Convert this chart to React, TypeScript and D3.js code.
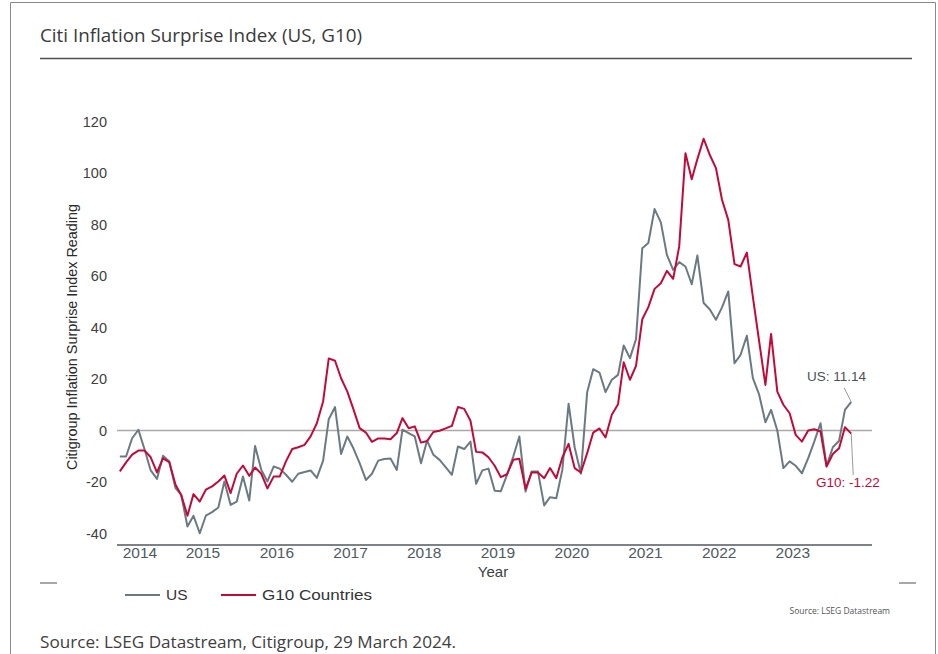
import * as d3 from "d3";
import React from "react";

// monthly readings, May 2014 .. Apr 2024
const usValues = [
  -10.1, -10.1, -3.0, 0.3, -7.5, -15.5, -18.8, -9.8, -12.0, -22.4,
  -25.0, -37.3, -33.1, -39.9, -33.1, -31.7, -29.9, -19.8, -28.9, -27.6,
  -17.9, -27.2, -6.0, -15.3, -19.8, -14.0, -14.8, -17.2, -19.9, -16.8,
  -16.1, -15.5, -18.4, -11.7, 4.4, 9.1, -9.1, -2.3, -6.9, -12.7,
  -19.2, -16.8, -11.7, -11.1, -10.9, -15.3, 0.3, -1.0, -2.3, -12.7,
  -3.9, -9.4, -11.4, -14.2, -17.2, -6.2, -7.2, -4.3, -20.7, -15.5,
  -14.8, -23.4, -23.6, -17.2, -10.1, -2.3, -23.7, -15.9, -15.9, -29.1,
  -25.9, -26.3, -15.3, 10.4, -6.5, -16.8, 14.9, 23.8, 22.5, 14.9,
  19.7, 21.6, 33.0, 28.1, 35.5, 70.8, 72.8, 86.0, 80.8, 68.2,
  62.4, 65.4, 63.7, 56.8, 68.0, 49.5, 47.1, 43.0, 47.8, 54.0,
  26.1, 29.4, 36.8, 20.3, 13.9, 3.2, 8.0, 0.0, -14.6, -12.0,
  -13.7, -16.6, -10.7, -4.3, 2.8, -13.7, -6.5, -4.0, 8.0, 11.14,
];

const g10Values = [
  -15.9, -12.4, -9.4, -7.8, -7.8, -10.4, -16.3, -10.8, -12.3, -21.1,
  -25.0, -33.1, -24.7, -27.6, -23.0, -21.7, -19.8, -17.5, -24.3, -16.8,
  -13.6, -17.6, -14.4, -16.8, -22.5, -17.9, -17.9, -12.0, -7.2, -6.5,
  -5.6, -2.3, 2.8, 11.3, 28.0, 27.1, 20.3, 15.1, 8.3, 0.9,
  -0.8, -4.4, -3.1, -3.1, -3.4, -1.0, 4.8, 0.9, 1.6, -4.7,
  -4.1, -0.6, -0.1, 0.8, 1.8, 9.1, 8.4, 3.8, -8.3, -8.5,
  -10.4, -13.7, -18.1, -17.0, -11.4, -11.0, -22.7, -16.3, -16.3, -18.5,
  -14.6, -18.5, -10.5, -5.2, -14.6, -16.3, -8.8, -0.8, 0.8, -2.7,
  6.1, 10.2, 26.5, 19.7, 25.1, 43.2, 47.9, 55.0, 57.2, 62.0,
  58.9, 71.5, 107.7, 97.6, 105.4, 113.3, 107.1, 101.9, 89.6, 81.8,
  64.6, 63.7, 69.1, 51.8, 34.6, 17.7, 37.5, 15.1, 10.0, 6.7,
  -1.7, -4.3, 0.0, 0.5, -0.4, -14.0, -9.1, -6.9, 1.3, -1.22,
];

const dates = usValues.map((_, i) => new Date(2014, 4 + i, 15));
const years = [2014, 2015, 2016, 2017, 2018, 2019, 2020, 2021, 2022, 2023];
const yTicks = [-40, -20, 0, 20, 40, 60, 80, 100, 120];

const US_COLOR = "#6b7a82";
const G10_COLOR = "#c20a3a";
const FONT = "'Liberation Sans', Arial, sans-serif";
const NARROW = "'Liberation Sans Narrow', 'Open Sans', sans-serif";

export default function App() {
  const width = 938;
  const height = 654;
  const left = 117;
  const right = 872;

  const x = d3
    .scaleTime()
    .domain([new Date(2014, 4, 1), new Date(2024, 6, 27)])
    .range([left, right]);

  const y = d3.scaleLinear().domain([-40, 120]).range([533.5, 121.5]);

  const line = d3
    .line<number>()
    .x((_, i) => x(dates[i]))
    .y((d) => y(d));

  const lastX = x(dates[dates.length - 1]);
  const lastUs = usValues[usValues.length - 1];
  const lastG10 = g10Values[g10Values.length - 1];

  return (
    <svg
      width={width}
      height={height}
      style={{ position: "absolute", left: 0, top: 0, background: "#fff" }}
    >
      {/* frame */}
      <path d="M10.5,660 V2.5 H935.5 V660" fill="none" stroke="#8a8a8a" strokeWidth={1} />

      <text x={40} y={42} fontFamily={NARROW} fontSize={19} fill="#3a3a3a" textLength={322} lengthAdjust="spacingAndGlyphs">
        Citi Inflation Surprise Index (US, G10)
      </text>
      <line x1={40} x2={912} y1={58.5} y2={58.5} stroke="#505050" strokeWidth={1.3} />

      {/* y axis */}
      {yTicks.map((t) => (
        <text key={t} x={107} y={y(t)} dy="0.35em" textAnchor="end" fontFamily={FONT} fontSize={14.5} fill="#404040">
          {t}
        </text>
      ))}
      <text
        transform={`translate(77,${337}) rotate(-90)`}
        textAnchor="middle"
        fontFamily={FONT}
        fontSize={14.5}
        fill="#2a2a2a"
        textLength={266}
        lengthAdjust="spacingAndGlyphs"
      >
        Citigroup Inflation Surprise Index Reading
      </text>

      {/* zero line and x axis */}
      <line x1={left} x2={right} y1={y(0)} y2={y(0)} stroke="#a9a9a9" strokeWidth={1.5} />
      <line x1={left} x2={right} y1={545} y2={545} stroke="#505a60" strokeWidth={1.5} />
      {years.map((yr) => (
        <text
          key={yr}
          x={Math.max(x(new Date(yr, 6, 1)), left + 23)}
          y={558}
          textAnchor="middle"
          fontFamily={FONT}
          fontSize={15.5}
          fill="#505a62"
        >
          {yr}
        </text>
      ))}
      <text x={493} y={577} textAnchor="middle" fontFamily={FONT} fontSize={15} fill="#404040">
        Year
      </text>

      {/* series */}
      <path d={line(usValues) ?? ""} fill="none" stroke={US_COLOR} strokeWidth={2} strokeLinejoin="round" />
      <path d={line(g10Values) ?? ""} fill="none" stroke={G10_COLOR} strokeWidth={2} strokeLinejoin="round" />

      {/* end labels */}
      <line x1={lastX - 7} y1={388} x2={lastX} y2={y(lastUs)} stroke="#9a9a9a" strokeWidth={1} />
      <text x={807} y={381} fontFamily={FONT} fontSize={13.5} fill="#4a5258">
        US: 11.14
      </text>
      <line x1={lastX} y1={y(lastG10)} x2={lastX + 2} y2={475} stroke="#9a9a9a" strokeWidth={1} />
      <text x={816} y={487} fontFamily={FONT} fontSize={13.5} fill={G10_COLOR}>
        G10: -1.22
      </text>

      {/* legend */}
      <line x1={40} x2={57} y1={583} y2={583} stroke="#505050" strokeWidth={1} />
      <line x1={899} x2={916} y1={583} y2={583} stroke="#505050" strokeWidth={1} />
      <line x1={125} x2={160} y1={595} y2={595} stroke={US_COLOR} strokeWidth={2} />
      <text x={166} y={600} fontFamily={FONT} fontSize={15.5} fill="#333">
        US
      </text>
      <line x1={221} x2={256} y1={595} y2={595} stroke={G10_COLOR} strokeWidth={2} />
      <text x={262} y={600} fontFamily={FONT} fontSize={15.5} fill="#333" textLength={110} lengthAdjust="spacingAndGlyphs">
        G10 Countries
      </text>
      <text x={890} y={614} textAnchor="end" fontFamily={NARROW} fontSize={8.5} fill="#555">
        Source: LSEG Datastream
      </text>

      <text x={40} y={648} fontFamily={NARROW} fontSize={16} fill="#404040" textLength={416} lengthAdjust="spacingAndGlyphs">
        Source:  LSEG Datastream, Citigroup,  29 March 2024.
      </text>
    </svg>
  );
}
